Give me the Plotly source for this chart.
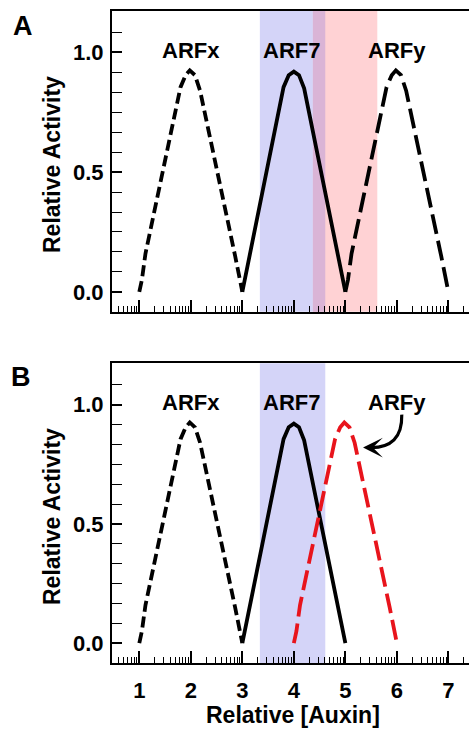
import numpy as np
import plotly.graph_objects as go

# ---------------- data ----------------
arfx_x = [1.0, 1.05, 1.12, 1.80, 1.90, 1.98, 2.08, 2.18, 2.86, 2.95, 3.0]
arfx_y = [0.0, 0.05, 0.16, 0.855, 0.905, 0.925, 0.905, 0.84, 0.15, 0.04, 0.0]

arf7_x = [3.0, 3.80, 3.90, 4.0, 4.10, 4.20, 5.0]
arf7_y = [0.0, 0.855, 0.905, 0.92, 0.905, 0.85, 0.0]

arfy_a_x = [5.0, 5.05, 5.12, 5.80, 5.90, 5.98, 6.08, 6.18, 6.86, 6.95, 7.0]
arfy_a_y = [0.0, 0.05, 0.16, 0.855, 0.905, 0.925, 0.905, 0.84, 0.15, 0.04, 0.0]

arfy_b_x = [4.0, 4.05, 4.12, 4.80, 4.90, 4.98, 5.08, 5.18, 5.86, 5.95, 6.0]
arfy_b_y = [0.0, 0.05, 0.16, 0.855, 0.905, 0.925, 0.905, 0.84, 0.15, 0.04, 0.0]

blue_band = [3.34, 4.61]
pink_band = [4.37, 5.62]

labels = ["ARFx", "ARF7", "ARFy"]
label_x = [2.0, 3.96, 6.0]
label_y = 1.01

x_major = [1, 2, 3, 4, 5, 6, 7]
y_major = [0.0, 0.5, 1.0]
y_minor = [k / 12 for k in range(0, 14)]
x_minor = [d + np.log10(m) for d in range(0, 8) for m in range(2, 10)]

# ---------------- figure ----------------
FONT = "Liberation Sans, Arial, sans-serif"
W, H = 469, 729
ML, MR, MT, MB = 112, 0, 11, 66
XR = [0.47, 7.40]
YR = [-0.083, 1.173]

fig = go.Figure()

def add_line(x, y, xa, ya, color, dash):
    fig.add_trace(go.Scatter(x=x, y=y, mode="lines", xaxis=xa, yaxis=ya,
                             line=dict(color=color, width=3.8, dash=dash),
                             showlegend=False, hoverinfo="skip"))

short_dash = "11px,5px"
long_dash = "20px,7px"

# panel A
add_line(arfx_x, arfx_y, "x", "y", "black", short_dash)
add_line(arf7_x, arf7_y, "x", "y", "black", "solid")
add_line(arfy_a_x, arfy_a_y, "x", "y", "black", long_dash)
# panel B
add_line(arfx_x, arfx_y, "x2", "y2", "black", short_dash)
add_line(arf7_x, arf7_y, "x2", "y2", "black", "solid")
add_line(arfy_b_x, arfy_b_y, "x2", "y2", "#e8141c", long_dash)

# shading
shapes = []
shapes.append(dict(type="rect", xref="x", yref="y domain", x0=blue_band[0], x1=blue_band[1],
                   y0=0, y1=1, fillcolor="#d4d4f8", line_width=0, layer="below"))
shapes.append(dict(type="rect", xref="x", yref="y domain", x0=pink_band[0], x1=pink_band[1],
                   y0=0, y1=1, fillcolor="#ffd2d4", line_width=0, layer="below"))
shapes.append(dict(type="rect", xref="x", yref="y domain", x0=pink_band[0], x1=blue_band[1],
                   y0=0, y1=1, fillcolor="#dab4d6", line_width=0, layer="below"))
shapes.append(dict(type="rect", xref="x2", yref="y2 domain", x0=blue_band[0], x1=blue_band[1],
                   y0=0, y1=1, fillcolor="#d4d4f8", line_width=0, layer="below"))
# curved arrow shaft (panel B)
shapes.append(dict(type="path", xref="x2", yref="y2",
                   path="M 6.095,0.958 Q 6.11,0.815 5.46,0.82",
                   line=dict(color="black", width=3.2)))
fig.update_layout(shapes=shapes)

annotations = []
for t, lx in zip(labels, label_x):
    for xa, ya in (("x", "y"), ("x2", "y2")):
        annotations.append(dict(text=t, x=lx, y=label_y, xref=xa, yref=ya, showarrow=False,
                                font=dict(family=FONT, size=22, color="black", weight="bold"),
                                xanchor="center", yanchor="middle"))
# arrowhead
annotations.append(dict(x=5.343, y=0.82, xref="x2", yref="y2", ax=5.50, ay=0.82,
                        axref="x2", ayref="y2", showarrow=True, arrowhead=3,
                        arrowwidth=3, arrowsize=1.1, arrowcolor="black", text=""))

plot_h = H - MT - MB
def py(pix):
    return (H - MB - pix) / plot_h
def px(pix):
    return (pix - ML) / (W - ML - MR)

# panel letters
annotations.append(dict(text="A", x=px(22.5), y=py(26), xref="paper", yref="paper", showarrow=False,
                        font=dict(family=FONT, size=27, color="black", weight="bold"),
                        xanchor="center", yanchor="middle"))
annotations.append(dict(text="B", x=px(21), y=py(377), xref="paper", yref="paper", showarrow=False,
                        font=dict(family=FONT, size=27, color="black", weight="bold"),
                        xanchor="center", yanchor="middle"))
# axis titles
for cy in (164, 516):
    annotations.append(dict(text="Relative Activity", x=px(52), y=py(cy), xref="paper", yref="paper",
                            showarrow=False, textangle=-90,
                            font=dict(family=FONT, size=23, color="black", weight="bold"),
                            xanchor="center", yanchor="middle"))
annotations.append(dict(text="Relative [Auxin]", x=px(292.5), y=py(715), xref="paper", yref="paper",
                        showarrow=False,
                        font=dict(family=FONT, size=23, color="black", weight="bold"),
                        xanchor="center", yanchor="middle"))
fig.update_layout(annotations=annotations)

dom_a = [py(311.7), 1.0]
dom_b = [0.0, py(363.3)]

def xaxis_cfg(dom_anchor, show_labels):
    return dict(range=XR, anchor=dom_anchor, showline=True, linecolor="black", linewidth=2.2,
                mirror=True, ticks="inside", ticklen=12, tickwidth=1.6, tickcolor="black",
                tickmode="array", tickvals=x_major, ticktext=[str(v) for v in x_major],
                showticklabels=show_labels, showgrid=False, zeroline=False,
                tickfont=dict(family=FONT, size=22, color="black", weight="bold"),
                ticklabelstandoff=6,
                minor=dict(tickmode="array", tickvals=x_minor, ticks="inside", ticklen=6,
                           tickwidth=1.4, tickcolor="black", showgrid=False))

def yaxis_cfg(dom, anchor):
    return dict(range=YR, domain=dom, anchor=anchor, showline=True, linecolor="black", linewidth=2.2,
                mirror=False, ticks="inside", ticklen=10, tickwidth=1.6, tickcolor="black",
                tickmode="array", tickvals=y_major, ticktext=["0.0", "0.5", "1.0"],
                showgrid=False, zeroline=False,
                tickfont=dict(family=FONT, size=22, color="black", weight="bold"),
                ticklabelstandoff=2,
                minor=dict(tickmode="array", tickvals=y_minor, ticks="inside", ticklen=10,
                           tickwidth=1.4, tickcolor="black", showgrid=False))

fig.update_layout(
    width=W, height=H, margin=dict(l=ML, r=MR, t=MT, b=MB, pad=0),
    paper_bgcolor="white", plot_bgcolor="white",
    xaxis=xaxis_cfg("y", False),
    yaxis=yaxis_cfg(dom_a, "x"),
    xaxis2=xaxis_cfg("y2", True),
    yaxis2=yaxis_cfg(dom_b, "x2"),
    showlegend=False,
)

fig.write_html("out.html", config={"displayModeBar": False},
               post_script="document.body.style.margin='0';document.body.style.overflow='hidden';")
